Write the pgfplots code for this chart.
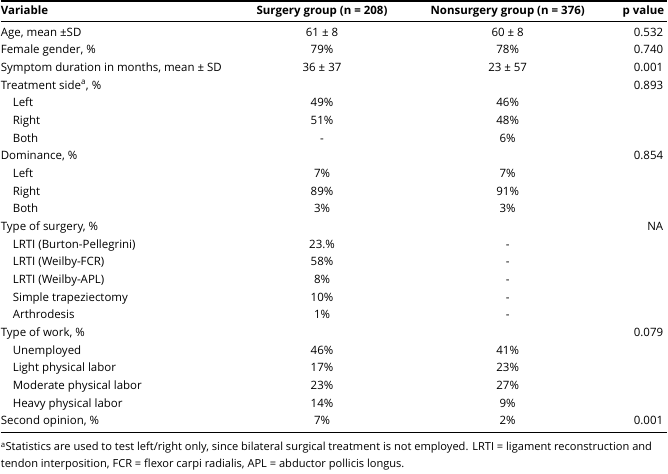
\documentclass[border=0pt]{standalone}
\usepackage{fontspec}
\setmainfont{Open Sans}
\usepackage{pgfplots}
\pgfplotsset{compat=1.18}
\newcommand{\tf}{\fontsize{11.5}{13}\selectfont}
\newcommand{\ff}{\fontsize{11.1}{13}\selectfont}
\begin{document}
\tf
\begin{tikzpicture}[every node/.append style={font=\tf, inner sep=0pt, text height=1.55ex, text depth=0.3ex}]
\begin{axis}[
  hide axis, scale only axis, width=668pt, height=474pt,
  xmin=0, xmax=668, ymin=0, ymax=474, y dir=reverse, clip=false,
]
\addplot[draw=none] coordinates {(0,0) (668,474)};
% rules
\addplot[black, line width=1.3pt] coordinates {(0,1) (668,1)};
\addplot[black, line width=0.7pt] coordinates {(0,21) (668,21)};
\addplot[black, line width=1.3pt] coordinates {(0,433) (668,433)};
% header
\node[anchor=west,font=\tf\bfseries] at (axis cs:0,11) {Variable};
\node[font=\tf\bfseries] at (axis cs:322,11) {Surgery group (n = 208)};
\node[font=\tf\bfseries] at (axis cs:508,11) {Nonsurgery group (n = 376)};
\node[anchor=east,font=\tf\bfseries] at (axis cs:665,11) {p value};
% rows
\node[anchor=west] at (axis cs:0,32.5) {Age, mean ±SD};
\node at (axis cs:322,32.5) {61 ± 8};
\node at (axis cs:508,32.5) {60 ± 8};
\node[anchor=east] at (axis cs:664,32.5) {0.532};
\node[anchor=west] at (axis cs:0,50.2) {Female gender, \%};
\node at (axis cs:322,50.2) {79\%};
\node at (axis cs:508,50.2) {78\%};
\node[anchor=east] at (axis cs:664,50.2) {0.740};
\node[anchor=west] at (axis cs:0,67.9) {Symptom duration in months, mean ± SD};
\node at (axis cs:322,67.9) {36 ± 37};
\node at (axis cs:508,67.9) {23 ± 57};
\node[anchor=east] at (axis cs:664,67.9) {0.001};
\node[anchor=west] at (axis cs:0,85.6) {Treatment side\textsuperscript{a}, \%};
\node[anchor=east] at (axis cs:664,85.6) {0.893};
\node[anchor=west] at (axis cs:12,103.3) {Left};
\node at (axis cs:322,103.3) {49\%};
\node at (axis cs:508,103.3) {46\%};
\node[anchor=west] at (axis cs:12,121.0) {Right};
\node at (axis cs:322,121.0) {51\%};
\node at (axis cs:508,121.0) {48\%};
\node[anchor=west] at (axis cs:12,138.7) {Both};
\node at (axis cs:322,138.7) {-};
\node at (axis cs:508,138.7) {6\%};
\node[anchor=west] at (axis cs:0,156.4) {Dominance, \%};
\node[anchor=east] at (axis cs:664,156.4) {0.854};
\node[anchor=west] at (axis cs:12,174.1) {Left};
\node at (axis cs:322,174.1) {7\%};
\node at (axis cs:508,174.1) {7\%};
\node[anchor=west] at (axis cs:12,191.8) {Right};
\node at (axis cs:322,191.8) {89\%};
\node at (axis cs:508,191.8) {91\%};
\node[anchor=west] at (axis cs:12,209.5) {Both};
\node at (axis cs:322,209.5) {3\%};
\node at (axis cs:508,209.5) {3\%};
\node[anchor=west] at (axis cs:0,227.2) {Type of surgery, \%};
\node[anchor=east] at (axis cs:664,227.2) {NA};
\node[anchor=west] at (axis cs:12,244.9) {LRTI (Burton-Pellegrini)};
\node at (axis cs:322,244.9) {23.\%};
\node at (axis cs:508,244.9) {-};
\node[anchor=west] at (axis cs:12,262.6) {LRTI (Weilby-FCR)};
\node at (axis cs:322,262.6) {58\%};
\node at (axis cs:508,262.6) {-};
\node[anchor=west] at (axis cs:12,280.3) {LRTI (Weilby-APL)};
\node at (axis cs:322,280.3) {8\%};
\node at (axis cs:508,280.3) {-};
\node[anchor=west] at (axis cs:12,298.0) {Simple trapeziectomy};
\node at (axis cs:322,298.0) {10\%};
\node at (axis cs:508,298.0) {-};
\node[anchor=west] at (axis cs:12,315.7) {Arthrodesis};
\node at (axis cs:322,315.7) {1\%};
\node at (axis cs:508,315.7) {-};
\node[anchor=west] at (axis cs:0,333.4) {Type of work, \%};
\node[anchor=east] at (axis cs:664,333.4) {0.079};
\node[anchor=west] at (axis cs:12,351.1) {Unemployed};
\node at (axis cs:322,351.1) {46\%};
\node at (axis cs:508,351.1) {41\%};
\node[anchor=west] at (axis cs:12,368.8) {Light physical labor};
\node at (axis cs:322,368.8) {17\%};
\node at (axis cs:508,368.8) {23\%};
\node[anchor=west] at (axis cs:12,386.5) {Moderate physical labor};
\node at (axis cs:322,386.5) {23\%};
\node at (axis cs:508,386.5) {27\%};
\node[anchor=west] at (axis cs:12,404.2) {Heavy physical labor};
\node at (axis cs:322,404.2) {14\%};
\node at (axis cs:508,404.2) {9\%};
\node[anchor=west] at (axis cs:0,421.9) {Second opinion, \%};
\node at (axis cs:322,421.9) {7\%};
\node at (axis cs:508,421.9) {2\%};
\node[anchor=east] at (axis cs:664,421.9) {0.001};
% footnote
\node[anchor=west,font=\ff] at (axis cs:0,448) {\textsuperscript{a}Statistics are used to test left/right only, since bilateral surgical treatment is not employed. LRTI = ligament reconstruction and};
\node[anchor=west,font=\ff] at (axis cs:0,464.5) {tendon interposition, FCR = flexor carpi radialis, APL = abductor pollicis longus.};
\end{axis}
\end{tikzpicture}
\end{document}
